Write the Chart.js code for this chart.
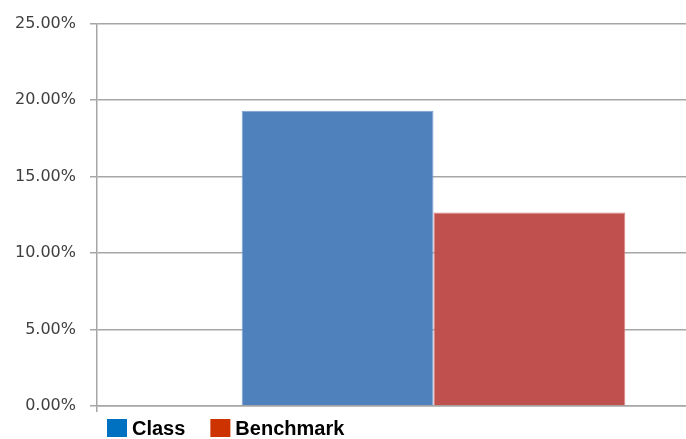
<!DOCTYPE html>
<html>
<head>
<meta charset="utf-8">
<script src="https://cdn.jsdelivr.net/npm/chart.js@4.4.1/dist/chart.umd.min.js"></script>
<style>
  html, body { margin: 0; padding: 0; background: #fff; overflow: hidden; }
  #wrap { width: 771px; height: 439px; }
</style>
</head>
<body>
<div id="wrap"><canvas id="myChart"></canvas></div>
<script>
const categories = [''];
const seriesNames = ['Class', 'Benchmark'];
const classValues = [19.3];
const benchmarkValues = [12.65];
const barColors = ['#4F81BD', '#C0504D'];
const barEdges = ['#7C9FD0', '#D98583'];
const legendColors = ['#0070C0', '#CC3300'];

// legend drawn by hand so the spacing matches the original
const sideLegend = {
    id: 'sideLegend',
    afterDraw(chart) {
        const ctx = chart.ctx;
        ctx.save();
        ctx.font = 'bold 20px "Liberation Sans", Arial, sans-serif';
        ctx.textBaseline = 'middle';
        ctx.textAlign = 'left';
        let x = 107;
        seriesNames.forEach((name, i) => {
            ctx.fillStyle = legendColors[i];
            ctx.fillRect(x, 419, 20, 18);
            ctx.fillStyle = '#000';
            ctx.fillText(name, x + 25, 429);
            x += 25 + ctx.measureText(name).width + 25;
        });
        ctx.restore();
    }
};

const ctx = document.getElementById('myChart').getContext('2d');
const myChart = new Chart(ctx, {
    type: 'bar',
    data: {
        labels: categories,
        datasets: [{
            label: seriesNames[0],
            data: classValues,
            backgroundColor: barColors[0],
            borderColor: barEdges[0],
            borderWidth: 1
        }, {
            label: seriesNames[1],
            data: benchmarkValues,
            backgroundColor: barColors[1],
            borderColor: barEdges[1],
            borderWidth: 1
        }]
    },
    options: {
        responsive: true,
        maintainAspectRatio: false,
        animation: false,
        layout: { padding: { top: 21.5, left: 0, right: 1, bottom: 0 } },
        datasets: { bar: { categoryPercentage: 0.57, barPercentage: 1 } },
        plugins: {
            legend: { display: false },
            tooltip: { enabled: false }
        },
        scales: {
            x: {
                offset: true,
                grid: {
                    display: true,
                    offset: true,
                    drawOnChartArea: false,
                    drawTicks: true,
                    tickLength: 6,
                    color: '#a6a6a6',
                    lineWidth: 1.5
                },
                border: { color: '#a6a6a6', width: 1.5 },
                ticks: { display: false },
                afterFit(scale) { scale.height = 33; }
            },
            y: {
                min: 0,
                max: 25,
                ticks: {
                    stepSize: 5,
                    padding: 14,
                    color: '#404040',
                    font: { family: '"DejaVu Sans", sans-serif', size: 16 },
                    callback: v => v.toFixed(2) + '%'
                },
                grid: {
                    color: '#a6a6a6',
                    lineWidth: 1.5,
                    tickLength: 7
                },
                border: { color: '#a6a6a6', width: 1.5 },
                afterFit(scale) { scale.width = 97; }
            }
        }
    },
    plugins: [sideLegend]
});
</script>
</body>
</html>
